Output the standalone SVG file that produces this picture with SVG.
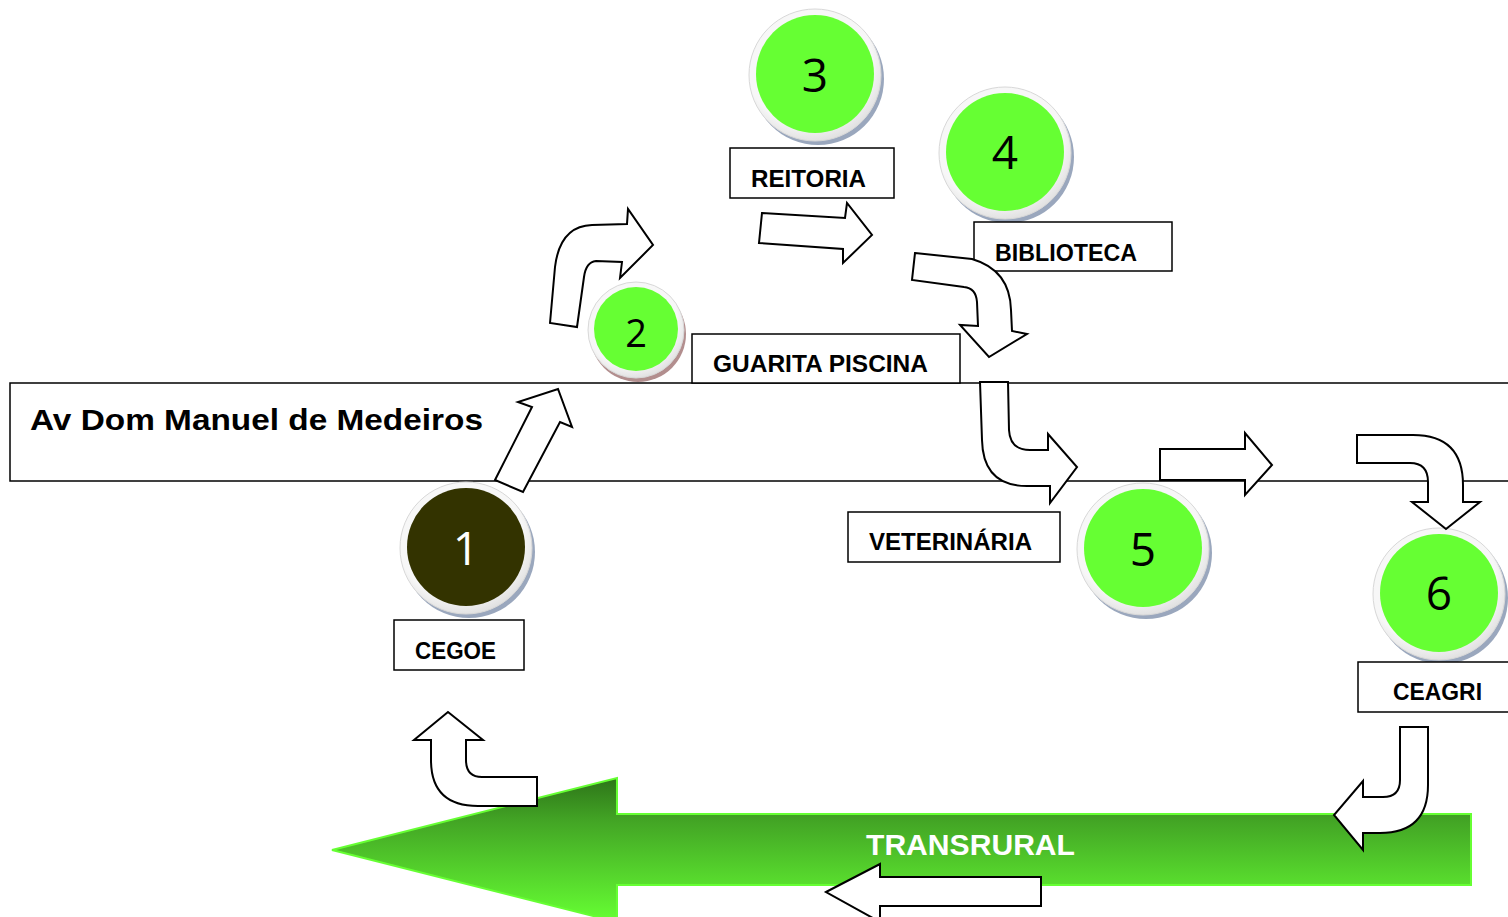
<svg xmlns="http://www.w3.org/2000/svg" width="1508" height="917" viewBox="0 0 1508 917">
<defs>
<linearGradient id="gArrow" x1="0" y1="0" x2="0" y2="1">
<stop offset="0" stop-color="#2d7419"/>
<stop offset="0.3" stop-color="#43a525"/>
<stop offset="1" stop-color="#66ff33"/>
</linearGradient>
<radialGradient id="gRing" cx="0.45" cy="0.4" r="0.6">
<stop offset="0.8" stop-color="#f7f7f7"/>
<stop offset="1" stop-color="#e2e2e2"/>
</radialGradient>
</defs>
<style>
.road{fill:#fff;stroke:#000;stroke-width:1.5}
.blk{fill:#fff;stroke:#000;stroke-width:2;stroke-linejoin:miter}
.lbl{fill:#fff;stroke:#000;stroke-width:1.5}
.lt{font-family:"Liberation Sans",Arial,sans-serif;font-weight:bold;font-size:23px;fill:#000}
.num{font-family:"Open Sans","Liberation Sans",sans-serif;font-size:46px;fill:#000;text-anchor:middle}
.shadow{fill:#9aa7bd}
.ring{fill:url(#gRing);stroke:#d8d8d8;stroke-width:1}
.green{fill:#66ff33}
</style>
<rect width="1508" height="917" fill="#fff"/>

<g id="road">
<rect class="road" x="10" y="383" width="1510" height="98"/>
<text x="30" y="430" font-family="Liberation Sans,Arial,sans-serif" font-weight="bold" font-size="30" textLength="453" lengthAdjust="spacingAndGlyphs">Av Dom Manuel de Medeiros</text>
</g>

<g id="transrural">
<polygon points="332,850 617,778 617,814 1471,814 1471,885 617,885 617,922" fill="url(#gArrow)" stroke="#66ff33" stroke-width="2"/>
<text x="866" y="855" font-family="Liberation Sans,Arial,sans-serif" font-weight="bold" font-size="30" fill="#fff" textLength="209" lengthAdjust="spacingAndGlyphs">TRANSRURAL</text>
</g>

<g id="node1">
<circle class="shadow" cx="469" cy="552" r="66"/>
<circle class="ring" cx="466" cy="548" r="66"/>
<circle cx="466" cy="547" r="59" fill="#333300"/>
<text class="num" x="466" y="565" style="fill:#fff">1</text>
<rect class="lbl" x="394" y="620" width="130" height="50"/>
<text class="lt" x="415" y="659" textLength="81" lengthAdjust="spacingAndGlyphs">CEGOE</text>
</g>

<g id="node2">
<circle cx="638" cy="334" r="48" fill="#b28e8e"/>
<circle class="ring" cx="636" cy="330" r="48"/>
<circle class="green" cx="636" cy="329" r="42"/>
<text class="num" x="636" y="347" style="font-size:38px">2</text>
<rect class="lbl" x="692" y="334" width="268" height="49"/>
<text class="lt" x="713" y="372" textLength="215" lengthAdjust="spacingAndGlyphs">GUARITA PISCINA</text>
</g>

<g id="node3">
<circle class="shadow" cx="818" cy="79" r="66"/>
<circle class="ring" cx="815" cy="75" r="66"/>
<circle class="green" cx="815" cy="74" r="59"/>
<text class="num" x="815" y="92">3</text>
<rect class="lbl" x="730" y="148" width="164" height="50"/>
<text class="lt" x="751" y="187" textLength="115" lengthAdjust="spacingAndGlyphs">REITORIA</text>
</g>

<g id="node4">
<circle class="shadow" cx="1008" cy="157" r="66"/>
<circle class="ring" cx="1005" cy="153" r="66"/>
<circle class="green" cx="1005" cy="152" r="59"/>
<text class="num" x="1005" y="169">4</text>
<rect class="lbl" x="974" y="222" width="198" height="49"/>
<text class="lt" x="995" y="261" textLength="142" lengthAdjust="spacingAndGlyphs">BIBLIOTECA</text>
</g>

<g id="node5">
<circle class="shadow" cx="1146" cy="553" r="66"/>
<circle class="ring" cx="1143" cy="549" r="66"/>
<circle class="green" cx="1143" cy="548" r="59"/>
<text class="num" x="1143" y="566">5</text>
<rect class="lbl" x="848" y="512" width="212" height="50"/>
<text class="lt" x="869" y="550" textLength="163" lengthAdjust="spacingAndGlyphs">VETERINÁRIA</text>
</g>

<g id="node6">
<circle class="shadow" cx="1442" cy="598" r="66"/>
<circle class="ring" cx="1439" cy="594" r="66"/>
<circle class="green" cx="1439" cy="593" r="59"/>
<text class="num" x="1439" y="610">6</text>
<rect class="lbl" x="1358" y="662" width="160" height="50"/>
<text class="lt" x="1393" y="700" textLength="89" lengthAdjust="spacingAndGlyphs">CEAGRI</text>
</g>

<g id="connectors">
<polygon class="blk" points="495,480 532,407 518,402 558,389 572,427 560,422 523,492"/>
<path class="blk" d="M550,323 L555,267 Q560,226 592,225 L627,224 L628,209 L653,245 L620,278 L622,262 L596,261 Q586,262 584,277 L577,327 Z"/>
<polygon class="blk" points="762,213 845,218 847,203 872,235 843,263 843,249 759,243"/>
<path class="blk" d="M915,253 L972,259 Q1010,270 1011,310 L1012,331 L1027,334 L989,357 L960,325 L978,326 L977,302 Q976,288 964,287 L912,280 Z"/>
<path class="blk" d="M980,382 L1008,382 L1009,430 Q1010,450 1030,450 L1048,450 L1048,434 L1077,467 L1050,503 L1050,486 L1027,486 Q983,486 982,440 Z"/>
<polygon class="blk" points="1160,449 1245,449 1245,433 1272,465 1245,495 1245,480 1160,480"/>
<path class="blk" d="M1357,435 L1413,435 Q1463,435 1463,485 L1463,502 L1480,502 L1446,529 L1412,502 L1428,502 L1428,482 Q1428,463 1410,463 L1357,463 Z"/>
<path class="blk" d="M1400,727 L1428,727 L1428,785 Q1428,833 1380,833 L1363,833 L1363,850 L1334,815 L1363,781 L1363,797 L1383,797 Q1400,797 1400,780 Z"/>
<polygon class="blk" points="826,892 880,864 880,877 1041,877 1041,906 880,906 880,922"/>
<path class="blk" d="M537,777 L482,777 Q466,777 466,760 L466,740 L483,740 L448,712 L414,740 L431,740 L431,760 Q431,806 478,806 L537,806 Z"/>
</g>
</svg>
